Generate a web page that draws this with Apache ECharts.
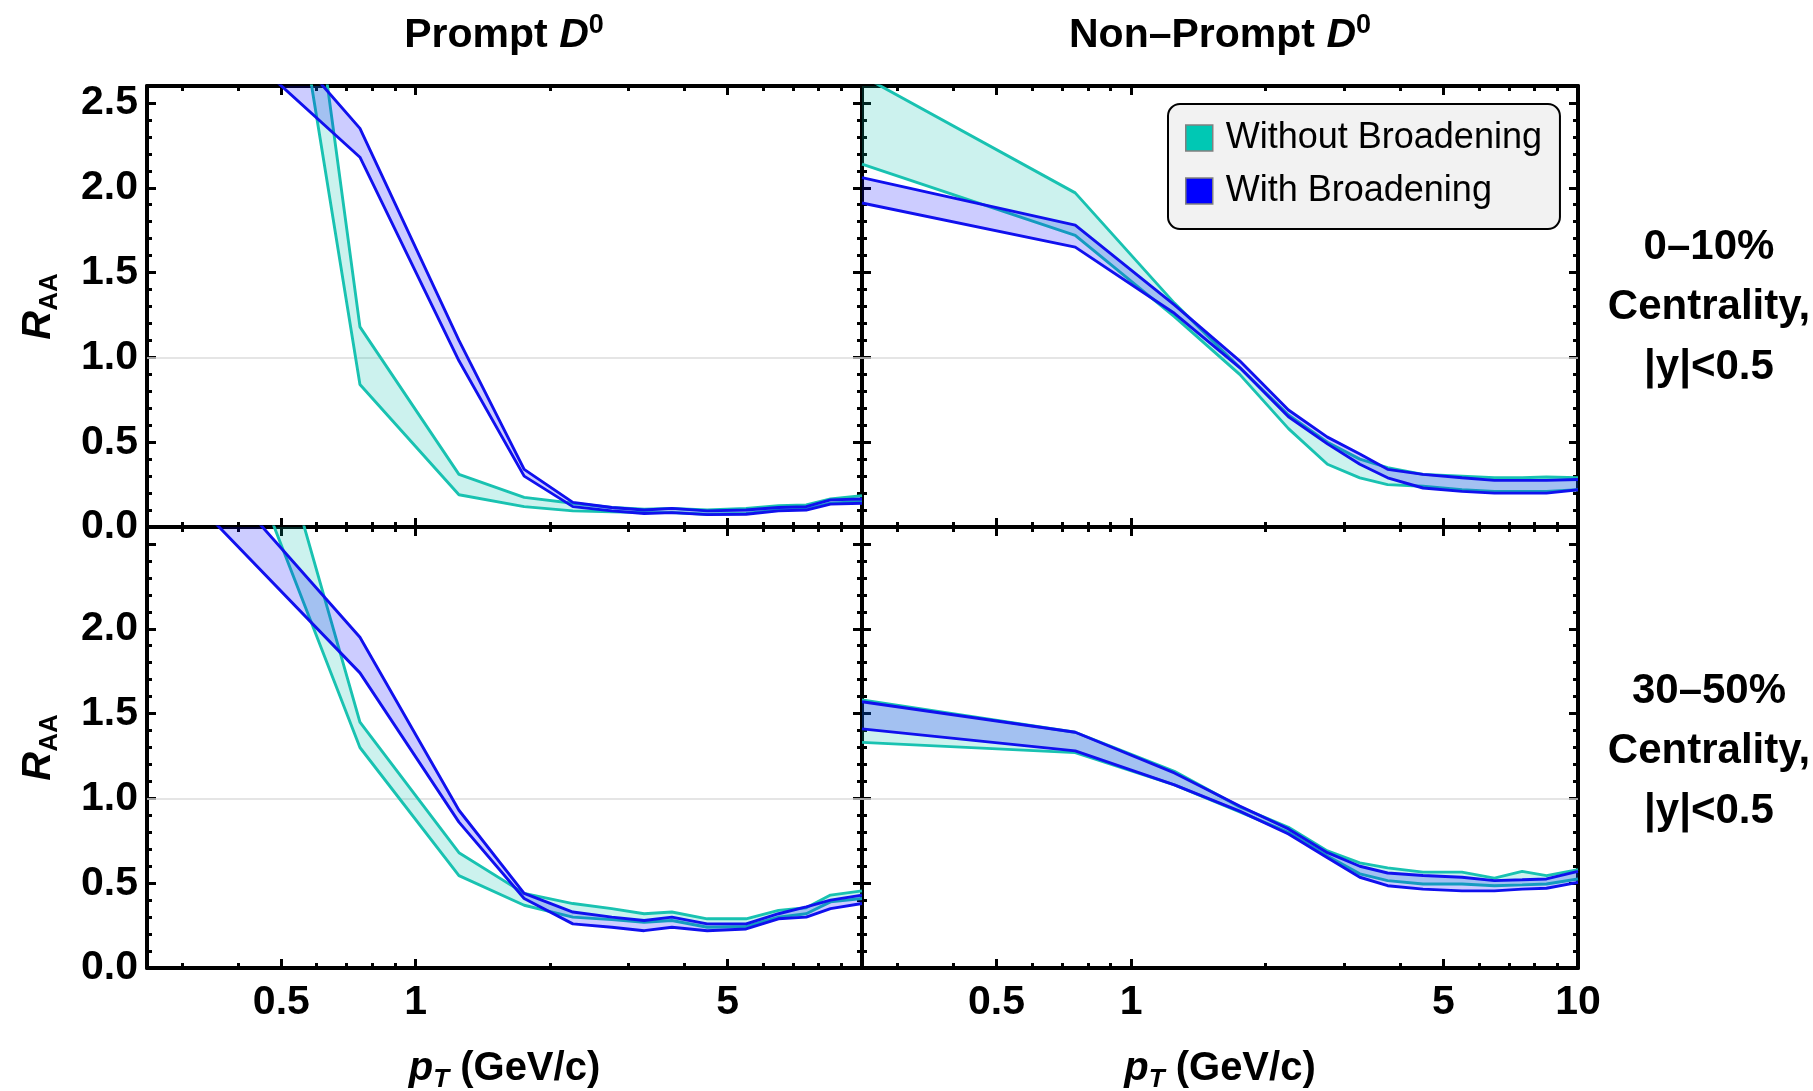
<!DOCTYPE html>
<html><head><meta charset="utf-8">
<script src="https://cdn.jsdelivr.net/npm/echarts@6/dist/echarts.min.js"></script>
<style>html,body{margin:0;padding:0;background:#fff}#c{width:1813px;height:1091px}</style>
</head><body><div id="c"></div>
<script>
// ---------------- data ----------------
const pT = [0.25, 0.75, 1.25, 1.75, 2.25, 2.75, 3.25, 3.75, 4.5, 5.5, 6.5, 7.5, 8.5, 10];

// Prompt D0, 0-10%
const prompt010_without_lo = [8.6, 0.84, 0.19, 0.12, 0.095, 0.09, 0.085, 0.085, 0.075, 0.08, 0.10, 0.105, 0.14, 0.15];
const prompt010_without_hi = [10.5, 1.18, 0.31, 0.175, 0.14, 0.115, 0.105, 0.11, 0.10, 0.11, 0.125, 0.13, 0.165, 0.185];
const prompt010_with_lo = [3.32, 2.18, 0.98, 0.30, 0.12, 0.095, 0.08, 0.085, 0.073, 0.075, 0.095, 0.10, 0.135, 0.14];
const prompt010_with_hi = [3.79, 2.35, 1.10, 0.34, 0.145, 0.115, 0.10, 0.11, 0.095, 0.10, 0.115, 0.12, 0.16, 0.165];

// Non-prompt D0, 0-10%
const nonprompt010_without_lo = [2.14, 1.72, 1.24, 0.90, 0.58, 0.37, 0.29, 0.25, 0.24, 0.22, 0.21, 0.21, 0.21, 0.22];
const nonprompt010_without_hi = [2.66, 1.97, 1.32, 0.94, 0.66, 0.50, 0.40, 0.35, 0.31, 0.30, 0.29, 0.29, 0.295, 0.29];
const nonprompt010_with_lo = [1.91, 1.65, 1.26, 0.94, 0.65, 0.49, 0.37, 0.29, 0.23, 0.21, 0.20, 0.20, 0.20, 0.22];
const nonprompt010_with_hi = [2.06, 1.78, 1.31, 0.98, 0.69, 0.53, 0.43, 0.34, 0.31, 0.29, 0.275, 0.275, 0.275, 0.28];

// Prompt D0, 30-50%
const prompt3050_without_lo = [4.53, 1.30, 0.545, 0.37, 0.30, 0.285, 0.27, 0.28, 0.24, 0.245, 0.30, 0.32, 0.39, 0.41];
const prompt3050_without_hi = [5.85, 1.45, 0.68, 0.44, 0.38, 0.35, 0.32, 0.33, 0.29, 0.29, 0.34, 0.355, 0.43, 0.455];
const prompt3050_with_lo = [3.04, 1.74, 0.86, 0.41, 0.26, 0.24, 0.22, 0.24, 0.22, 0.23, 0.29, 0.30, 0.35, 0.38];
const prompt3050_with_hi = [3.37, 1.95, 0.93, 0.44, 0.33, 0.30, 0.28, 0.30, 0.26, 0.26, 0.32, 0.36, 0.40, 0.43];

// Non-prompt D0, 30-50%
const nonprompt3050_without_lo = [1.33, 1.27, 1.08, 0.92, 0.80, 0.66, 0.555, 0.515, 0.495, 0.495, 0.485, 0.49, 0.495, 0.525];
const nonprompt3050_without_hi = [1.58, 1.39, 1.16, 0.95, 0.83, 0.69, 0.62, 0.59, 0.565, 0.565, 0.53, 0.57, 0.545, 0.58];
const nonprompt3050_with_lo = [1.41, 1.28, 1.08, 0.925, 0.79, 0.65, 0.535, 0.485, 0.465, 0.455, 0.455, 0.465, 0.47, 0.505];
const nonprompt3050_with_hi = [1.57, 1.39, 1.15, 0.955, 0.82, 0.68, 0.60, 0.56, 0.545, 0.535, 0.515, 0.52, 0.525, 0.57];

// ticks / labels
const xMajorTicks = [0.5, 1, 5, 10];
const xMinorTicks = [0.3, 0.4, 0.6, 0.7, 0.8, 0.9, 2, 3, 4, 6, 7, 8, 9];
const xLabelsLeft = [0.5, 1, 5];
const xLabelsRight = [0.5, 1, 5, 10];
const yMajorTicks = [0, 0.5, 1, 1.5, 2, 2.5];
const yMinorTicks = [0.1, 0.2, 0.3, 0.4, 0.6, 0.7, 0.8, 0.9, 1.1, 1.2, 1.3, 1.4, 1.6, 1.7, 1.8, 1.9, 2.1, 2.2, 2.3, 2.4];
const yLabelsTop = [0, 0.5, 1, 1.5, 2, 2.5];
const yLabelsBottom = [0, 0.5, 1, 1.5, 2];
const columnTitles = ['Prompt ', 'Non\u2013Prompt '];
const rowLabels = ['0\u201310%\nCentrality,\n|y|<0.5', '30\u201350%\nCentrality,\n|y|<0.5'];
const legendNames = ['Without Broadening', 'With Broadening'];

// ---------------- style ----------------
const FONT = 'Liberation Sans, Arial, Helvetica, sans-serif';
const TEAL = '#19c2b1', TEAL_FILL = 'rgba(0,190,170,0.2)';
const BLUE = '#1010ee', BLUE_FILL = 'rgba(0,0,255,0.2)';

const grids = [
  {left: 147, top: 86, width: 715, height: 441, outerBoundsMode: 'none', containLabel: false},
  {left: 862, top: 86, width: 716, height: 441, outerBoundsMode: 'none', containLabel: false},
  {left: 147, top: 527, width: 715, height: 441, outerBoundsMode: 'none', containLabel: false},
  {left: 862, top: 527, width: 716, height: 441, outerBoundsMode: 'none', containLabel: false}
];

const rich = {
  b: {fontSize: 41, fontWeight: 'bold', fontFamily: FONT, color: '#000', lineHeight: 48},
  i: {fontSize: 41, fontWeight: 'bold', fontStyle: 'italic', fontFamily: FONT, color: '#000', lineHeight: 48},
  sup: {fontSize: 27, fontWeight: 'bold', fontFamily: FONT, color: '#000', verticalAlign: 'top', lineHeight: 22},
  sub: {fontSize: 26, fontWeight: 'bold', fontFamily: FONT, color: '#000', verticalAlign: 'bottom', lineHeight: 27},
  subi: {fontSize: 26, fontWeight: 'bold', fontStyle: 'italic', fontFamily: FONT, color: '#000', verticalAlign: 'bottom', lineHeight: 27}
};
const richAxis = {
  b: Object.assign({}, rich.b, {fontSize: 40}),
  i: Object.assign({}, rich.i, {fontSize: 40}),
  sub: rich.sub, subi: rich.subi
};

const xFmt = v => String(parseFloat(Number(v).toPrecision(2)));
const yFmt = v => Number(v).toFixed(1);

const xAxes = [], yAxes = [];
for (let g = 0; g < 4; g++) {
  const isBottom = g >= 2, isLeft = g % 2 === 0;
  const mk = (pos, ticks, len, line, labels, name) => ({
    type: 'log', logBase: 10, gridIndex: g, position: pos, min: 0.25, max: 10,
    axisLine: {show: line, onZero: false, lineStyle: {color: '#000', width: 4}},
    axisTick: {show: true, inside: true, length: len, customValues: ticks, lineStyle: {color: '#000', width: 3}},
    minorTick: {show: false}, splitLine: {show: false},
    axisLabel: labels ? {show: true, customValues: labels, formatter: xFmt, margin: 14,
      fontSize: 41, fontWeight: 'bold', fontFamily: FONT, color: '#000'} : {show: false},
    name: name || '', nameLocation: 'middle', nameGap: 77,
    nameTextStyle: {rich: richAxis}
  });
  xAxes.push(mk('bottom', xMajorTicks, 9, true, isBottom ? (isLeft ? xLabelsLeft : xLabelsRight) : null,
    isBottom ? '{i|p}{subi|T}{b| (GeV/c)}' : ''));
  xAxes.push(mk('bottom', xMinorTicks, 5, false, null));
  xAxes.push(mk('top', xMajorTicks, 9, true, null));
  xAxes.push(mk('top', xMinorTicks, 5, false, null));

  const mky = (pos, ticks, len, line, labels, name) => ({
    type: 'value', gridIndex: g, position: pos, min: 0, max: 2.6,
    axisLine: {show: line, onZero: false, lineStyle: {color: '#000', width: 4}},
    axisTick: {show: true, inside: true, length: len, customValues: ticks, lineStyle: {color: '#000', width: 3}},
    minorTick: {show: false}, splitLine: {show: false},
    axisLabel: labels ? {show: true, customValues: labels, formatter: yFmt, margin: 9,
      fontSize: 41, fontWeight: 'bold', fontFamily: FONT, color: '#000'} : {show: false},
    name: name || '', nameLocation: 'middle', nameRotate: 90, nameGap: 84,
    nameTextStyle: {rich: richAxis}
  });
  yAxes.push(mky('left', yMajorTicks, 9, true, isLeft ? (isBottom ? yLabelsBottom : yLabelsTop) : null,
    isLeft ? '{i|R}{sub|AA}' : ''));
  yAxes.push(mky('left', yMinorTicks, 5, false, null));
  yAxes.push(mky('right', yMajorTicks, 9, true, null));
  yAxes.push(mky('right', yMinorTicks, 5, false, null));
}

const panels = [
  [prompt010_without_lo, prompt010_without_hi, prompt010_with_lo, prompt010_with_hi],
  [nonprompt010_without_lo, nonprompt010_without_hi, nonprompt010_with_lo, nonprompt010_with_hi],
  [prompt3050_without_lo, prompt3050_without_hi, prompt3050_with_lo, prompt3050_with_hi],
  [nonprompt3050_without_lo, nonprompt3050_without_hi, nonprompt3050_with_lo, nonprompt3050_with_hi]
];

function band(g, lo, hi, fill, name, legendColor, z) {
  return {
    type: 'custom', name: name, xAxisIndex: 4 * g, yAxisIndex: 4 * g, clip: true, silent: true, z: z,
    itemStyle: {color: legendColor},
    data: pT.map((x, i) => [x, lo[i], hi[i]]),
    encode: {x: 0, y: [1, 2]},
    renderItem: function (params, api) {
      if (params.dataIndex !== 0) return null;
      const up = pT.map((x, i) => api.coord([x, hi[i]]));
      const dn = pT.map((x, i) => api.coord([x, lo[i]])).reverse();
      return {type: 'polygon', shape: {points: up.concat(dn)}, style: {fill: fill, stroke: null}};
    }
  };
}
function edge(g, arr, color, name, z, withGrid) {
  const s = {
    type: 'line', name: name, xAxisIndex: 4 * g, yAxisIndex: 4 * g, clip: true, silent: true, z: z,
    symbol: 'none', data: pT.map((x, i) => [x, arr[i]]),
    lineStyle: {color: color, width: 2.9}, itemStyle: {color: color}
  };
  if (withGrid) {
    s.markLine = {silent: true, symbol: 'none', z: 1, label: {show: false},
      lineStyle: {color: '#dcdcdc', width: 1.5, type: 'solid'}, data: [{yAxis: 1}]};
  }
  return s;
}

const series = [];
for (let g = 0; g < 4; g++) {
  const [wlo, whi, blo, bhi] = panels[g];
  series.push(band(g, wlo, whi, TEAL_FILL, legendNames[0], '#00c8b4', 2));
  series.push(edge(g, wlo, TEAL, 'teal-lo', 3, true));
  series.push(edge(g, whi, TEAL, 'teal-hi', 3, false));
  series.push(band(g, blo, bhi, BLUE_FILL, legendNames[1], '#0000ff', 4));
  series.push(edge(g, blo, BLUE, 'blue-lo', 5, false));
  series.push(edge(g, bhi, BLUE, 'blue-hi', 5, false));
}

const graphic = [];
[504, 1220].forEach((cx, k) => {
  graphic.push({type: 'text', x: cx, y: 36, silent: true,
    style: {text: '{b|' + columnTitles[k] + '}{i|D}{sup|0}', rich: rich, align: 'center', verticalAlign: 'middle'}});
});
[307, 751].forEach((cy, k) => {
  graphic.push({type: 'text', x: 1709, y: cy, silent: true,
    style: {text: rowLabels[k], fontSize: 42, fontWeight: 'bold', fontFamily: FONT, fill: '#000',
      lineHeight: 60, align: 'center', verticalAlign: 'middle'}});
});

const chart = echarts.init(document.getElementById('c'), null, {renderer: 'canvas'});
chart.setOption({
  animation: false,
  backgroundColor: '#fff',
  grid: grids,
  xAxis: xAxes,
  yAxis: yAxes,
  legend: {
    orient: 'vertical', left: 1168, top: 104, padding: [16, 18, 20, 17],
    itemWidth: 27, itemHeight: 26, itemGap: 17, selectedMode: false,
    backgroundColor: '#f2f2f2', borderColor: '#000', borderWidth: 2, borderRadius: 12,
    textStyle: {fontSize: 36, color: '#000', fontFamily: FONT, padding: [0, 0, 0, 8]},
    data: [
      {name: legendNames[0], icon: 'rect', itemStyle: {color: '#00c8b4', borderColor: '#808080', borderWidth: 1.5}},
      {name: legendNames[1], icon: 'rect', itemStyle: {color: '#0000ff', borderColor: '#808080', borderWidth: 1.5}}
    ]
  },
  graphic: graphic,
  series: series
});
</script>
</body></html>
